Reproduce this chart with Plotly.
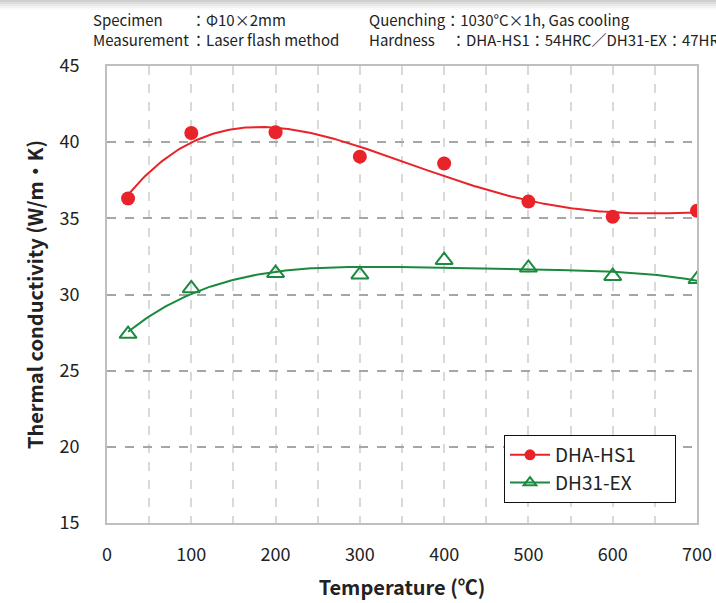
import numpy as np
import plotly.graph_objects as go

temps = [25, 100, 200, 300, 400, 500, 600, 700]
hs1 = [36.3, 40.6, 40.65, 39.05, 38.6, 36.1, 35.1, 35.5]
ex = [27.4, 30.4, 31.4, 31.3, 32.25, 31.75, 31.2, 31.0]
x_ticks = [0, 100, 200, 300, 400, 500, 600, 700]
y_ticks = [15, 20, 25, 30, 35, 40, 45]

RED = "#E8232A"
GREEN = "#1B8A3E"
FONT = "Noto Sans CJK JP"

xs = np.linspace(min(temps), max(temps), 200)
fit_hs1 = np.polyval(np.polyfit(temps, hs1, 4), xs)
fit_ex = np.polyval(np.polyfit(temps, ex, 4), xs)

fig = go.Figure()
fig.add_trace(go.Scatter(x=xs, y=fit_hs1, mode="lines", line=dict(color=RED, width=2),
                         showlegend=False, hoverinfo="skip"))
fig.add_trace(go.Scatter(x=xs, y=fit_ex, mode="lines", line=dict(color=GREEN, width=2),
                         showlegend=False, hoverinfo="skip"))
fig.add_trace(go.Scatter(x=temps, y=hs1, mode="markers", showlegend=False,
                         marker=dict(symbol="circle", size=14, color=RED)))
fig.add_trace(go.Scatter(x=temps, y=ex, mode="markers", showlegend=False,
                         marker=dict(symbol="triangle-up-open", size=15, color=GREEN,
                                     line=dict(color=GREEN, width=2))))
pad = "\u00a0" * 8
fig.add_trace(go.Scatter(x=[None], y=[None], mode="lines+markers", name="DHA-HS1" + pad,
                         line=dict(color=RED, width=2),
                         marker=dict(symbol="circle", size=11, color=RED)))
fig.add_trace(go.Scatter(x=[None], y=[None], mode="lines+markers", name="DH31-EX" + pad,
                         line=dict(color=GREEN, width=2),
                         marker=dict(symbol="triangle-up-open", size=11, color=GREEN,
                                     line=dict(color=GREEN, width=2))))

fig.update_layout(
    width=716, height=603,
    margin=dict(l=107, r=19, t=66, b=80),
    paper_bgcolor="white", plot_bgcolor="white",
    font=dict(family=FONT, size=18, color="#222222"),
    showlegend=True,
    legend=dict(x=(504 - 107) / 590, y=(523 - 435) / 457, xanchor="left", yanchor="top",
                bgcolor="white", bordercolor="#111111", borderwidth=1,
                font=dict(size=19, family=FONT, color="#222222"),
                itemwidth=40, tracegroupgap=4),
)
fig.update_xaxes(
    range=[0, 700], tickvals=x_ticks, ticktext=[str(v) for v in x_ticks],
    showgrid=True, gridcolor="#d9d9d9", griddash="dash", gridwidth=1.5,
    minor=dict(dtick=50, tick0=0, showgrid=True, gridcolor="#d9d9d9", griddash="dash", gridwidth=1.5),
    showline=True, mirror=True, linecolor="#bfbfbf", linewidth=2,
    ticks="", ticklabelstandoff=14, zeroline=False, automargin=False,
    title=dict(text="Temperature (℃)", font=dict(size=20, family=FONT, weight="bold"), standoff=16),
)
fig.update_yaxes(
    range=[15, 45], tickvals=y_ticks, ticktext=[str(v) for v in y_ticks],
    showgrid=True, gridcolor="#a6a6a6", griddash="dash", gridwidth=1.5,
    showline=True, mirror=True, linecolor="#bfbfbf", linewidth=2,
    ticks="", ticklabelstandoff=22, zeroline=False, automargin=False,
    title=dict(text="Thermal conductivity (W/m・K)", font=dict(size=20, family=FONT, weight="bold"), standoff=10),
)

for i, op in enumerate([0.35, 0.25, 0.16, 0.09, 0.04]):
    fig.add_shape(type="rect", xref="paper", yref="paper", x0=-1, x1=2,
                  y0=1 + (66 - 2 * i - 2) / 457, y1=1 + (66 - 2 * i) / 457 + 0.05 * (i == 0),
                  line=dict(width=0), fillcolor="rgba(120,120,120,%s)" % op, layer="above")

notes = [
    (91, 19, "Specimen"), (189, 19, "：Φ10×2mm"),
    (91, 40, "Measurement"), (189, 40, "：Laser flash method"),
    (367, 19, "Quenching：1030°C×1h, Gas cooling"),
    (367, 40, "Hardness"), (449, 40, "：DHA-HS1：54HRC／DH31-EX：47HRC"),
]
for px, py, txt in notes:
    fig.add_annotation(x=(px - 107) / 590, y=1 + (66 - py) / 457, xref="paper", yref="paper",
                       text=txt, showarrow=False, xanchor="left", yanchor="middle",
                       font=dict(size=15, family=FONT, color="#222222"))

fig.write_html("out.html")
